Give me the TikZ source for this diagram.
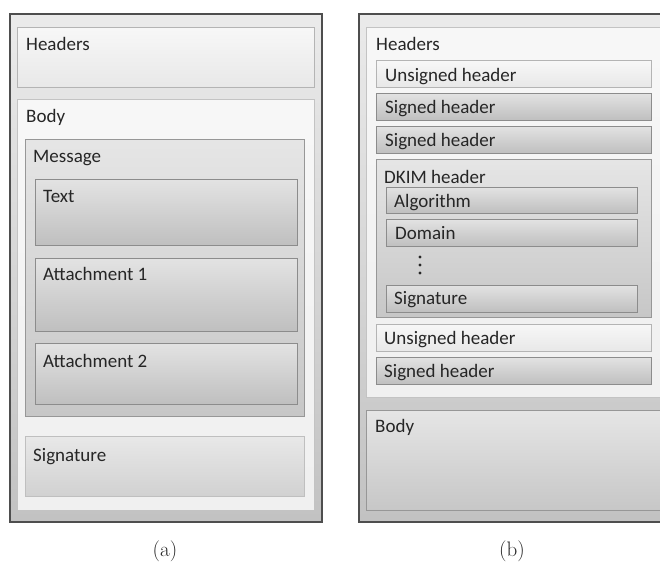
\documentclass[tikz,border=0pt]{standalone}
\usepackage{fontspec}
\newfontfamily\calib{Carlito}
\usepackage{xcolor}
\usepackage{tikz}
\usetikzlibrary{positioning,shadows}
\definecolor{frameC}{HTML}{4E4E4E}
\definecolor{liteL}{HTML}{B4B4B4}
\definecolor{darkL}{HTML}{8C8C8C}
\definecolor{txtC}{HTML}{262626}

\begin{document}
\begin{tikzpicture}[
  x=1pt, y=1pt,
  sz/.style 2 args={minimum width=#1pt, minimum height=#2pt},
  box/.style={inner sep=0pt, outer sep=0pt, anchor=north west, line width=0.9pt},
  shd/.style={drop shadow={shadow xshift=0.8pt, shadow yshift=-1.2pt, fill=black, opacity=0.22}},
  framebox/.style={box, draw=frameC, line width=1.3pt, top color=black!8, bottom color=black!24},
  palebox/.style={box, draw=liteL, top color=black!3, bottom color=black!9, shd},
  plainbox/.style={box, draw=liteL!80, top color=black!3, bottom color=black!6, shd},
  groupbox/.style={box, draw=darkL!90, top color=black!10, bottom color=black!22, shd},
  itembox/.style={box, draw=darkL, top color=black!11, bottom color=black!25, shd},
  softbox/.style={box, draw=black!25, top color=black!9, bottom color=black!18, shd},
  lbl/.style={anchor=base west, inner sep=0pt, text=txtC, font=\calib\fontsize{19}{23}\selectfont},
  captxt/.style={anchor=base, inner sep=0pt, text=txtC, font=\rmfamily\fontsize{21}{25}\selectfont}
]
  \useasboundingbox (0,0) rectangle (660,-563);
  \clip (0,0) rectangle (660,-563);

  % (a) plain message
  \node[framebox, sz={312}{508}] (outerA) at (10,-14) {};
  \node[palebox, sz={297}{60}] (hdrA) at (17,-27) {};
  \node[plainbox, sz={297}{411}] (bodyA) at (17,-99) {};
  \node[groupbox, sz={279}{277}] (msgA) at (25,-139) {};
  \node[itembox, sz={262}{66}] (textA) at (35,-179) {};
  \node[itembox, sz={262}{73}] (attOneA) at (35,-258) {};
  \node[itembox, sz={262}{61}] (attTwoA) at (35,-343) {};
  \node[softbox, sz={279}{60}] (sigA) at (25,-436) {};

  \node[lbl] (hdrAtxt) at (26,-50) {Headers};
  \node[lbl] (bodyAtxt) at (26,-122) {Body};
  \node[lbl] (msgAtxt) at (33,-162) {Message};
  \node[lbl] (textAtxt) at (43,-202) {Text};
  \node[lbl] (attOneAtxt) at (43,-280) {Attachment 1};
  \node[lbl] (attTwoAtxt) at (43,-367) {Attachment 2};
  \node[lbl] (sigAtxt) at (33,-461) {Signature};

  % (b) DKIM signed message
  \node[framebox, sz={313}{508}] (outerB) at (359,-14) {};
  \node[plainbox, sz={299}{370}] (hdrB) at (366,-27) {};
  \node[palebox, sz={275}{27}] (unsOne) at (376,-60) {};
  \node[itembox, sz={275}{27}] (sgnOne) at (376,-93) {};
  \node[itembox, sz={275}{27}] (sgnTwo) at (376,-126) {};
  \node[groupbox, sz={275}{158}] (dkim) at (376,-159) {};
  \node[itembox, sz={251}{26}] (alg) at (386,-187) {};
  \node[itembox, sz={251}{27}] (dom) at (386,-219) {};
  \node[itembox, sz={251}{27}] (sigB) at (386,-285) {};
  \node[palebox, sz={275}{27}] (unsTwo) at (376,-324) {};
  \node[itembox, sz={275}{27}] (sgnThree) at (376,-357) {};
  \node[groupbox, sz={299}{100}] (bodyB) at (366,-410) {};

  \node[lbl] (hdrBtxt) at (376,-50) {Headers};
  \node[lbl] (unsOnetxt) at (385,-81) {Unsigned header};
  \node[lbl] (sgnOnetxt) at (385,-113) {Signed header};
  \node[lbl] (sgnTwotxt) at (385,-146) {Signed header};
  \node[lbl] (dkimtxt) at (384,-183) {DKIM header};
  \node[lbl] (algtxt) at (394,-207) {Algorithm};
  \node[lbl] (domtxt) at (395,-239) {Domain};
  \node[lbl] (sigBtxt) at (394,-304) {Signature};
  \node[lbl] (unsTwotxt) at (384,-344) {Unsigned header};
  \node[lbl] (sgnThreetxt) at (384,-377) {Signed header};
  \node[lbl] (bodyBtxt) at (375,-432) {Body};
  \foreach \dy in {257,265,273}
    \fill[txtC] (420,-\dy) circle (1.7pt);

  \node[captxt] (capA) at (165,-556) {(a)};
  \node[captxt] (capB) at (512,-556) {(b)};
\end{tikzpicture}
\end{document}
